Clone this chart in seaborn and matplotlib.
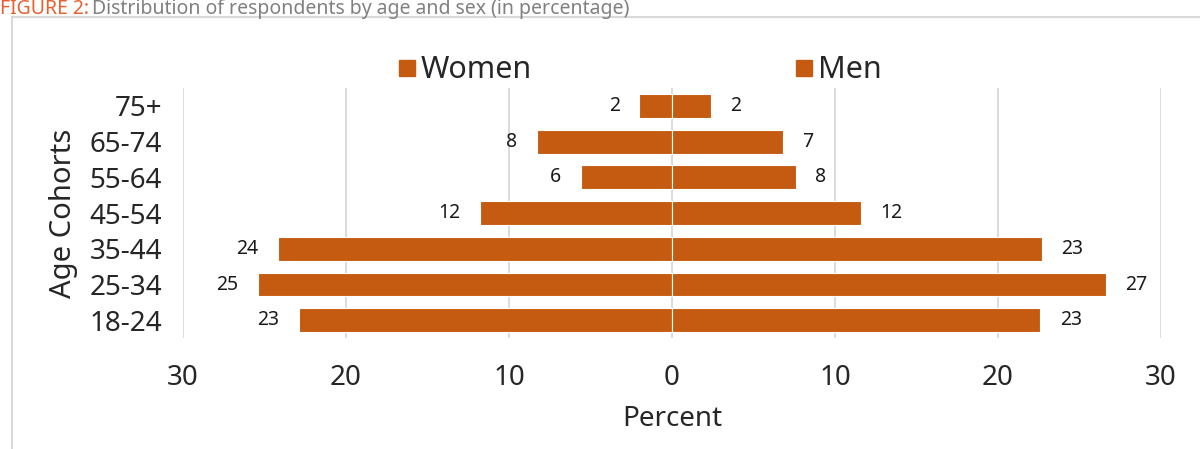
#import library
import pandas as pd
import matplotlib.pyplot as plt
import seaborn as sns
from matplotlib.patches import Rectangle
from matplotlib.lines import Line2D

#chart values (percent), top row first
age_groups = ['75+', '65-74', '55-64', '45-54', '35-44', '25-34', '18-24']
women_pct = [2.0, 8.3, 5.6, 11.8, 24.2, 25.4, 22.9]
men_pct = [2.4, 6.8, 7.6, 11.6, 22.7, 26.6, 22.6]
x_ticks = [-30, -20, -10, 0, 10, 20, 30]

orange = '#C55A11'

#long table, women to the left
df = pd.DataFrame({
    'Age': age_groups * 2,
    'Sex': ['Women'] * len(age_groups) + ['Men'] * len(age_groups),
    'Percent': [-v for v in women_pct] + men_pct,
})

sns.set_theme(style='white')
plt.rcParams['font.family'] = ['Noto Sans', 'DejaVu Sans']

fig = plt.figure(figsize=(12, 4.49), dpi=100)
ax = fig.add_axes([0.1525, 0.247, 0.815, 0.557])

sns.barplot(data=df, x='Percent', y='Age', hue='Sex', order=age_groups,
            hue_order=['Women', 'Men'], palette=[orange, orange], dodge=False,
            orient='h', width=0.67, edgecolor='white', linewidth=0.8,
            saturation=1, legend=False, ax=ax, zorder=3)

#value labels
for cont, vals in zip(ax.containers, [women_pct, men_pct]):
    ax.bar_label(cont, labels=['%.0f' % v for v in vals], padding=14,
                 fontsize=14, color='#1a1a1a')

ax.set_xlim(-30, 30)
ax.set_xticks(x_ticks)
ax.set_xticklabels([str(abs(t)) for t in x_ticks], fontsize=20)
ax.tick_params(axis='x', pad=19, length=0)
ax.tick_params(axis='y', labelsize=20, length=0, pad=15)
ax.xaxis.grid(True, color='#d9d9d9', linewidth=1.3, zorder=0)
ax.set_axisbelow(True)
for s in ax.spines.values():
    s.set_visible(False)
ax.set_xlabel('Percent', fontsize=20, labelpad=9)
ax.set_ylabel('Age Cohorts', fontsize=21, labelpad=8)

#legend
handles = [Line2D([], [], marker='s', linestyle='', color=orange, markersize=11),
           Line2D([], [], marker='s', linestyle='', color=orange, markersize=11)]
fig.legend(handles, ['Women', 'Men'], loc='center', bbox_to_anchor=(0.532, 0.843),
           ncol=2, frameon=False, fontsize=22, columnspacing=8.5,
           handletextpad=0.05, handlelength=0.8)

#frame and title
fig.patches.append(Rectangle((0.01, -0.05), 1.2, 1.012, transform=fig.transFigure,
                             fill=False, edgecolor='#d9d9d9', linewidth=1.5))
fig.text(0.0, 1 - 14 / 449, 'FIGURE 2:', color='#E8602F', fontsize=14,
         va='baseline', ha='left')
fig.text(0.077, 1 - 14 / 449, 'Distribution of respondents by age and sex (in percentage)',
         color='#808080', fontsize=14, va='baseline', ha='left')

plt.savefig('out.png', dpi=100)
